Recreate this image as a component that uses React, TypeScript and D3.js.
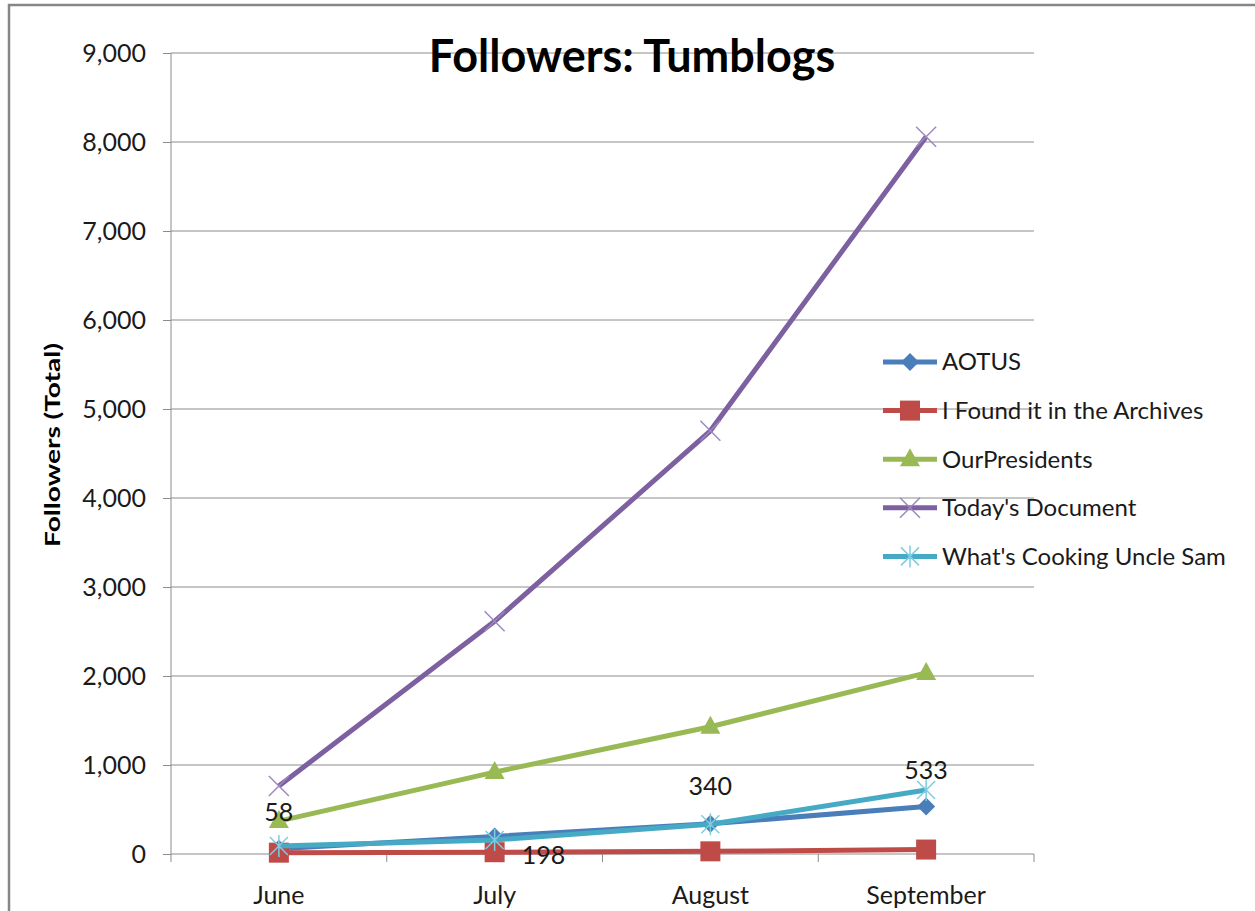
import React, { useEffect, useRef } from 'react';
import * as d3 from 'd3';

const months = ['June', 'July', 'August', 'September'];
const seriesNames = ['AOTUS', 'I Found it in the Archives', 'OurPresidents', "Today's Document", "What's Cooking Uncle Sam"];
const aotus = [58, 198, 340, 533];
const foundArchives = [15, 20, 30, 50];
const ourPresidents = [370, 920, 1430, 2035];
const todaysDocument = [765, 2615, 4755, 8060];
const cookingUncleSam = [90, 158, 335, 720];
const yTicks = [0, 1000, 2000, 3000, 4000, 5000, 6000, 7000, 8000, 9000];
const aotusLabels = ['58', '198', '340', '533'];

const colors = ['#4A7EBB', '#BE4B48', '#98B954', '#7D60A0', '#46AAC5'];
const markerColors = ['#4A7EBB', '#BE4B48', '#98B954', '#9E88C0', '#7ECCE0'];
const markers = ['diamond', 'square', 'triangle', 'x', 'star'];

const FONT = 'Lato, "Open Sans", sans-serif';

function drawMarker(g: d3.Selection<SVGGElement, unknown, null, undefined>, kind: string, x: number, y: number, color: string) {
    if (kind === 'diamond') {
        g.append('path').attr('d', `M${x},${y - 9}L${x + 9},${y}L${x},${y + 9}L${x - 9},${y}Z`).attr('fill', color);
    } else if (kind === 'square') {
        g.append('rect').attr('x', x - 10).attr('y', y - 10).attr('width', 20).attr('height', 20).attr('fill', color);
    } else if (kind === 'triangle') {
        g.append('path').attr('d', `M${x},${y - 11}L${x + 10},${y + 7}L${x - 10},${y + 7}Z`).attr('fill', color);
    } else if (kind === 'x') {
        g.append('path').attr('d', `M${x - 10},${y - 10}L${x + 10},${y + 10}M${x - 10},${y + 10}L${x + 10},${y - 10}`)
            .attr('stroke', color).attr('stroke-width', 1.5).attr('fill', 'none');
    } else {
        g.append('path').attr('d', `M${x - 9},${y - 9}L${x + 9},${y + 9}M${x - 9},${y + 9}L${x + 9},${y - 9}M${x},${y - 11}L${x},${y + 11}`)
            .attr('stroke', color).attr('stroke-width', 1.5).attr('fill', 'none');
    }
}

const App: React.FC = () => {
    const svgRef = useRef<SVGSVGElement>(null);

    useEffect(() => {
        if (!svgRef.current) return;
        const svg = d3.select(svgRef.current);
        svg.selectAll('*').remove();

        const margin = { top: 53, right: 221, bottom: 57, left: 171 };
        const width = 1255;
        const height = 911;

        const x = d3.scaleBand().domain(months).range([margin.left, width - margin.right]);
        const y = d3.scaleLinear().domain([0, 9000]).range([height - margin.bottom, margin.top]);
        const cx = (m: string) => (x(m) as number) + x.bandwidth() / 2;

        // outer frame
        svg.append('path').attr('d', `M9,${height}L9,5L${width},5`).attr('fill', 'none')
            .attr('stroke', '#868686').attr('stroke-width', 2.5);

        // gridlines
        svg.append('g').selectAll('line').data(yTicks.slice(1)).join('line')
            .attr('x1', margin.left).attr('x2', width - margin.right)
            .attr('y1', d => y(d)).attr('y2', d => y(d))
            .attr('stroke', '#8C8C8C').attr('stroke-width', 1);

        // y axis
        const yAxis = svg.append('g').attr('transform', `translate(${margin.left},0)`)
            .call(d3.axisLeft(y).tickValues(yTicks).tickFormat(d3.format(',')).tickSize(8).tickPadding(17));
        yAxis.select('.domain').remove();
        yAxis.append('line').attr('x1', 0).attr('x2', 0).attr('y1', y(9000)).attr('y2', y(0) + 8).attr('stroke', '#8C8C8C');
        yAxis.selectAll('line').attr('stroke', '#8C8C8C');
        yAxis.selectAll('text').attr('font-size', 25).attr('font-family', FONT).attr('fill', '#1a1a1a');

        // x axis
        const xg = svg.append('g');
        xg.append('line').attr('x1', margin.left).attr('x2', width - margin.right)
            .attr('y1', y(0)).attr('y2', y(0)).attr('stroke', '#8C8C8C');
        const bounds = months.map(m => x(m) as number).concat([width - margin.right]);
        xg.selectAll('line.tick').data(bounds.slice(1)).join('line').attr('class', 'tick')
            .attr('x1', d => d).attr('x2', d => d).attr('y1', y(0)).attr('y2', y(0) + 8).attr('stroke', '#8C8C8C');
        xg.selectAll('text').data(months).join('text')
            .attr('x', d => cx(d)).attr('y', y(0) + 50).attr('text-anchor', 'middle')
            .attr('font-size', 25).attr('font-family', FONT).attr('fill', '#1a1a1a').text(d => d);

        // title
        svg.append('text').attr('x', 632).attr('y', 72).attr('text-anchor', 'middle')
            .attr('font-size', 45).attr('font-weight', 'bold').attr('font-family', FONT).attr('fill', '#000')
            .text('Followers: Tumblogs');

        // y title
        svg.append('text').attr('transform', `translate(60,445) rotate(-90)`).attr('text-anchor', 'middle')
            .attr('font-size', 20).attr('font-weight', 'bold').attr('font-family', FONT).attr('fill', '#000')
            .attr('textLength', 204).attr('lengthAdjust', 'spacingAndGlyphs')
            .text('Followers (Total)');

        const allSeries = [aotus, foundArchives, ourPresidents, todaysDocument, cookingUncleSam];
        const line = d3.line<number>().x((_, i) => cx(months[i])).y(d => y(d));
        allSeries.forEach((series, si) => {
            const g = svg.append('g');
            g.append('path').datum(series).attr('d', line).attr('fill', 'none')
                .attr('stroke', colors[si]).attr('stroke-width', 5).attr('stroke-linejoin', 'round');
            series.forEach((v, i) => drawMarker(g as any, markers[si], cx(months[i]), y(v), markerColors[si]));
        });

        // data labels (AOTUS)
        const labelPos = [
            { dx: 0, dy: -37, anchor: 'middle' },
            { dx: 27, dy: 19, anchor: 'start' },
            { dx: 0, dy: -37, anchor: 'middle' },
            { dx: 0, dy: -36, anchor: 'middle' },
        ];
        svg.append('g').selectAll('text').data(aotusLabels).join('text')
            .attr('x', (_, i) => cx(months[i]) + labelPos[i].dx)
            .attr('y', (_, i) => y(aotus[i]) + labelPos[i].dy)
            .attr('dy', '0.35em')
            .attr('text-anchor', (_, i) => labelPos[i].anchor)
            .attr('font-size', 25).attr('font-family', FONT).attr('fill', '#1a1a1a')
            .text(d => d);

        // legend
        const lg = svg.append('g').attr('transform', 'translate(883,362)');
        seriesNames.forEach((name, i) => {
            const gy = i * 48.6;
            const item = lg.append('g');
            item.append('line').attr('x1', 0).attr('x2', 54).attr('y1', gy).attr('y2', gy)
                .attr('stroke', colors[i]).attr('stroke-width', 5);
            drawMarker(item as any, markers[i], 27, gy, markerColors[i]);
            item.append('text').attr('x', 59).attr('y', gy).attr('dy', '0.35em')
                .attr('font-size', 24).attr('font-family', FONT).attr('fill', '#1a1a1a').text(name);
        });
    }, []);

    return (
        <div style={{ position: 'fixed', left: 0, top: 0, width: 1255, height: 911, background: '#fff' }}>
            <svg ref={svgRef} width={1255} height={911} />
        </div>
    );
};

export default App;
